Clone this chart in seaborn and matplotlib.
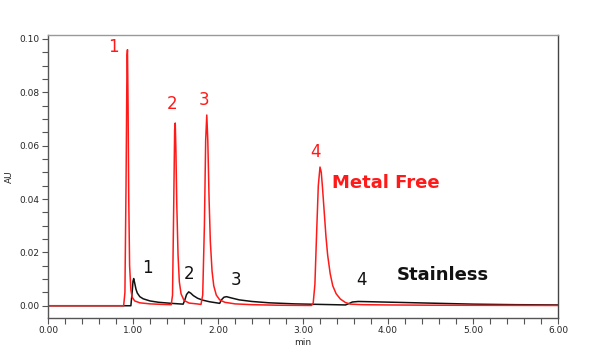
"""Chromatogram: Metal Free vs Stainless column."""
import matplotlib
matplotlib.use("Agg")
import matplotlib.pyplot as plt
import pandas as pd
import seaborn as sns
from matplotlib.ticker import MultipleLocator, FormatStrFormatter

# Metal Free trace (red)
metal_time = [0.00, 0.89, 0.905, 0.918, 0.93, 0.935, 0.942, 0.95, 0.96, 0.975,
              0.99, 1.02, 1.08, 1.20, 1.35, 1.45, 1.465, 1.478, 1.49, 1.497,
              1.505, 1.515, 1.53, 1.545, 1.565, 1.60, 1.66, 1.75, 1.80, 1.82,
              1.84, 1.855, 1.868, 1.88, 1.895, 1.91, 1.93, 1.95, 1.98, 2.02,
              2.08, 2.20, 2.40, 2.70, 3.10, 3.12, 3.14, 3.16, 3.18, 3.20,
              3.215, 3.23, 3.25, 3.27, 3.29, 3.32, 3.35, 3.39, 3.44, 3.50,
              3.56, 3.70, 4.00, 4.50, 6.00]
metal_au = [0.0, 0.0, 0.005, 0.045, 0.094, 0.096, 0.075, 0.04, 0.015, 0.006,
            0.0032, 0.0018, 0.0011, 0.0007, 0.0005, 0.0004, 0.004, 0.035, 0.066, 0.0685,
            0.058, 0.038, 0.019, 0.009, 0.0045, 0.002, 0.001, 0.0007, 0.0005, 0.004,
            0.03, 0.062, 0.0715, 0.062, 0.04, 0.024, 0.013, 0.0075, 0.004, 0.0022,
            0.0013, 0.0007, 0.0004, 0.0002, 0.0001, 0.001, 0.008, 0.027, 0.045, 0.052,
            0.050, 0.044, 0.035, 0.026, 0.019, 0.012, 0.0075, 0.0045, 0.0025, 0.0012,
            0.0006, 0.0004, 0.0003, 0.0002, 0.0001]

# Stainless trace (black)
steel_time = [0.00, 0.975, 0.99, 1.00, 1.008, 1.02, 1.035, 1.05, 1.08, 1.12,
              1.20, 1.30, 1.45, 1.59, 1.61, 1.63, 1.655, 1.68, 1.71, 1.76,
              1.82, 1.90, 1.98, 2.02, 2.04, 2.07, 2.10, 2.16, 2.25, 2.40,
              2.60, 2.90, 3.20, 3.50, 3.54, 3.58, 3.65, 3.80, 4.20, 4.60,
              5.00, 5.50, 6.00]
steel_au = [0.0, 0.0, 0.005, 0.0092, 0.0102, 0.0085, 0.0062, 0.0048, 0.0034, 0.0026,
            0.0018, 0.0013, 0.0009, 0.0006, 0.0022, 0.0042, 0.0052, 0.0047, 0.0038, 0.0028,
            0.0021, 0.0015, 0.0011, 0.0009, 0.0022, 0.0032, 0.0034, 0.0029, 0.0022, 0.0016,
            0.0011, 0.0007, 0.0005, 0.0003, 0.0008, 0.0014, 0.0016, 0.0015, 0.0012, 0.0009,
            0.0006, 0.0004, 0.0003]

# peak labels
peak_names = ["1", "2", "3", "4"]
metal_lbl_x = [0.77, 1.46, 1.84, 3.15]
metal_lbl_y = [0.097, 0.0755, 0.077, 0.0575]
steel_lbl_x = [1.17, 1.66, 2.21, 3.69]
steel_lbl_y = [0.0141, 0.0118, 0.0095, 0.0095]

sns.set_style("ticks")
plt.rcParams["font.family"] = ["DejaVu Sans"]

df = pd.concat([
    pd.DataFrame({"min": metal_time, "AU": metal_au, "column": "Metal Free"}),
    pd.DataFrame({"min": steel_time, "AU": steel_au, "column": "Stainless"}),
])

fig = plt.figure(figsize=(6, 3.56), dpi=100)
ax = fig.add_axes([0.08, 0.1067, 0.85, 0.795])

sns.lineplot(data=df, x="min", y="AU", hue="column",
             palette={"Metal Free": "#ff1a1a", "Stainless": "#111111"},
             hue_order=["Stainless", "Metal Free"],
             linewidth=1.1, legend=False, ax=ax, sort=False)

ax.set_xlim(0, 6)
ax.set_ylim(-0.0046, 0.1015)
ax.xaxis.set_major_locator(MultipleLocator(1))
ax.xaxis.set_minor_locator(MultipleLocator(0.2))
ax.yaxis.set_major_locator(MultipleLocator(0.02))
ax.yaxis.set_minor_locator(MultipleLocator(0.005))
ax.xaxis.set_major_formatter(FormatStrFormatter("%.2f"))
ax.yaxis.set_major_formatter(FormatStrFormatter("%.2f"))
ax.tick_params(which="both", direction="out", length=4, width=0.8,
               color="#555555", labelsize=6.5, pad=2)

for side in ["left", "bottom"]:
    ax.spines[side].set_color("#555555")
ax.spines["top"].set_color("#999999")
ax.spines["right"].set_color("#444444")
for s in ax.spines.values():
    s.set_linewidth(1.0)

ax.set_xlabel("min", fontsize=6.5, labelpad=2)
ax.set_ylabel("AU", fontsize=6.5, labelpad=4)

for name, x, y in zip(peak_names, metal_lbl_x, metal_lbl_y):
    ax.text(x, y, name, color="#ff1a1a", fontsize=12, ha="center", va="center")
for name, x, y in zip(peak_names, steel_lbl_x, steel_lbl_y):
    ax.text(x, y, name, color="#111111", fontsize=12, ha="center", va="center")

ax.text(3.34, 0.046, "Metal Free", color="#ff1a1a", fontsize=13,
        fontweight="bold", ha="left", va="center")
ax.text(4.1, 0.0115, "Stainless", color="#111111", fontsize=13,
        fontweight="bold", ha="left", va="center")

fig.savefig("out.png", dpi=100)
